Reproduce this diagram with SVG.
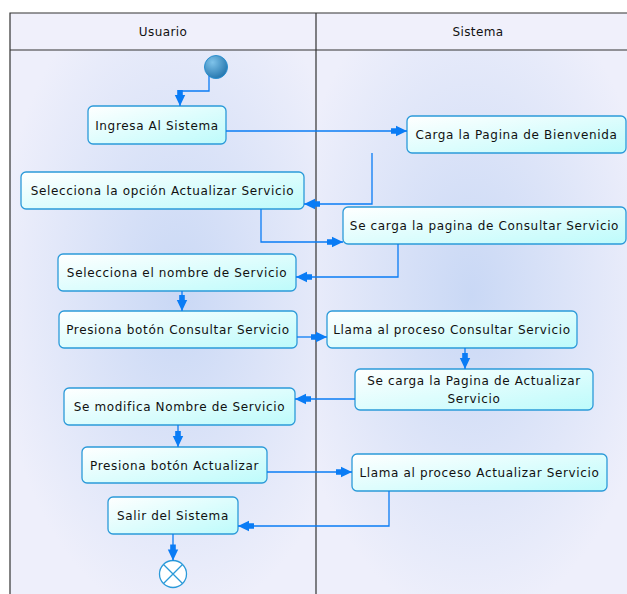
<svg xmlns="http://www.w3.org/2000/svg" width="627" height="594" viewBox="0 0 627 594">
<defs>
  <radialGradient id="laneL" cx="0.55" cy="0.45" r="0.6">
    <stop offset="0" stop-color="#c9d8f5"/>
    <stop offset="1" stop-color="#eeeffb"/>
  </radialGradient>
  <radialGradient id="laneR" cx="0.5" cy="0.45" r="0.6">
    <stop offset="0" stop-color="#c9d8f5"/>
    <stop offset="1" stop-color="#eeeffb"/>
  </radialGradient>
  <linearGradient id="box" x1="0" y1="0" x2="1" y2="1">
    <stop offset="0" stop-color="#ffffff"/>
    <stop offset="1" stop-color="#bdfbfb"/>
  </linearGradient>
  <radialGradient id="start" cx="0.35" cy="0.3" r="0.8">
    <stop offset="0" stop-color="#7fc3ea"/>
    <stop offset="1" stop-color="#1d6fa8"/>
  </radialGradient>
  <marker id="arr" markerUnits="userSpaceOnUse" markerWidth="18" markerHeight="12" viewBox="0 -6 16 12" refX="16" refY="0" orient="auto">
    <path d="M0,-2.8 H5 V-5.2 L16,0 L5,5.2 V2.8 H0 Z" fill="#0a7cf5"/>
  </marker>
  <style>
    .act rect { fill: url(#box); stroke: #2b9ad9; stroke-width: 1.3; }
    .act text { font-family: "DejaVu Sans", Verdana, sans-serif; font-size: 12px; letter-spacing: 0.65px; fill: #111; text-anchor: middle; }
    .hdr { font-family: "DejaVu Sans", Verdana, sans-serif; font-size: 12px; letter-spacing: 0.4px; fill: #111; text-anchor: middle; }
    .con path { fill: none; stroke: #0a7cf5; stroke-width: 1.3; marker-end: url(#arr); }
    .lane { stroke: #333; stroke-width: 1.2; fill: none; }
  </style>
</defs>
<rect x="0" y="0" width="627" height="594" fill="#ffffff"/>
<!-- lanes -->
<g id="swimlanes">
  <rect x="10" y="50" width="306" height="544" fill="url(#laneL)"/>
  <rect x="316" y="50" width="311" height="544" fill="url(#laneR)"/>
  <rect x="10" y="13" width="617" height="37" fill="#f0f0fb"/>
  <path class="lane" d="M10,594 V13 H627 M10,50 H627 M316,13 V594"/>
  <text class="hdr" x="163" y="35.5">Usuario</text>
  <text class="hdr" x="478" y="35.5">Sistema</text>
</g>
<!-- nodes -->
<g id="start-node">
  <circle cx="216" cy="67" r="11.5" fill="url(#start)" stroke="#2a8fd0" stroke-width="1"/>
</g>
<g id="n1" class="act"><rect x="88" y="106" width="138" height="38" rx="5"/><text x="157" y="129.5">Ingresa Al Sistema</text></g>
<g id="n2" class="act"><rect x="407" y="116" width="219" height="37" rx="5"/><text x="516.5" y="139">Carga la Pagina de Bienvenida</text></g>
<g id="n3" class="act"><rect x="21" y="172" width="283" height="37" rx="5"/><text x="162.5" y="195">Selecciona la opción Actualizar Servicio</text></g>
<g id="n4" class="act"><rect x="343" y="207" width="283" height="37" rx="5"/><text x="484.5" y="230">Se carga la pagina de Consultar Servicio</text></g>
<g id="n5" class="act"><rect x="58" y="254" width="238" height="37" rx="5"/><text x="177" y="277">Selecciona el nombre de Servicio</text></g>
<g id="n6" class="act"><rect x="59" y="311" width="238" height="37" rx="5"/><text x="178" y="334">Presiona botón Consultar Servicio</text></g>
<g id="n7" class="act"><rect x="327" y="311" width="250" height="37" rx="5"/><text x="452" y="334">Llama al proceso Consultar Servicio</text></g>
<g id="n8" class="act"><rect x="355" y="369" width="238" height="41" rx="5"/><text x="474" y="385">Se carga la Pagina de Actualizar</text><text x="474" y="402.5">Servicio</text></g>
<g id="n9" class="act"><rect x="64" y="388" width="231" height="37" rx="5"/><text x="179.5" y="411">Se modifica Nombre de Servicio</text></g>
<g id="n10" class="act"><rect x="82" y="447" width="185" height="36" rx="5"/><text x="174.5" y="469.5">Presiona botón Actualizar</text></g>
<g id="n11" class="act"><rect x="352" y="454" width="255" height="37" rx="5"/><text x="479.5" y="477">Llama al proceso Actualizar Servicio</text></g>
<g id="n12" class="act"><rect x="108" y="497" width="130" height="37" rx="5"/><text x="173" y="520">Salir del Sistema</text></g>
<g id="end-node">
  <circle cx="173" cy="574" r="13.5" fill="#ffffff" stroke="#2b9ad9" stroke-width="1.3"/>
  <path d="M163.5,564.5 L182.5,583.5 M182.5,564.5 L163.5,583.5" stroke="#2b9ad9" stroke-width="1.3"/>
</g>
<!-- connectors -->
<g id="connectors" class="con">
  <path d="M209,76 V91 H180 V106"/>
  <path d="M226,131 H407"/>
  <path d="M372,153 V204 H304"/>
  <path d="M261,209 V242 H343"/>
  <path d="M398,244 V277 H296"/>
  <path d="M182,291 V311"/>
  <path d="M297,337 H327"/>
  <path d="M465,348 V369"/>
  <path d="M355,399 H295"/>
  <path d="M178,425 V447"/>
  <path d="M267,472 H352"/>
  <path d="M389,491 V526 H238"/>
  <path d="M173,534 V560.5"/>
</g>
</svg>
